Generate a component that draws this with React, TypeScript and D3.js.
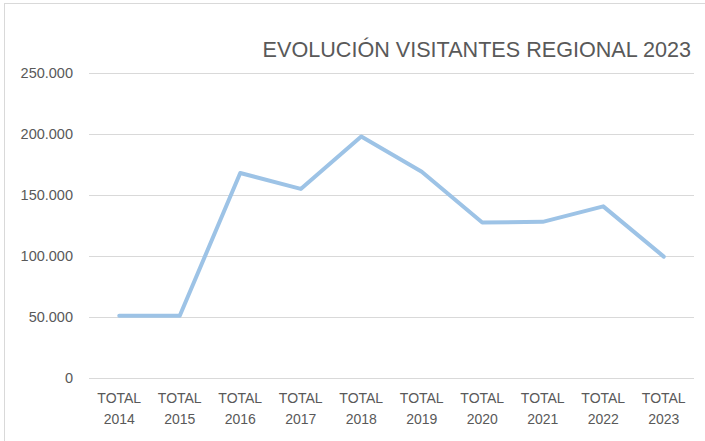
import * as d3 from 'd3';

const categories = ['2014', '2015', '2016', '2017', '2018', '2019', '2020', '2021', '2022', '2023'];
const visitors = [51000, 51000, 168000, 155000, 198000, 169000, 127500, 128000, 140700, 99500];
const yTicks = [0, 50000, 100000, 150000, 200000, 250000];

const W = 705;
const H = 441;
const margin = { top: 73, right: 10, bottom: 63, left: 89 };
const font = "'Liberation Sans', Arial, sans-serif";

const fmt = (v: number) => (v === 0 ? '0' : d3.format(',')(v).replace(/,/g, '.'));

export default function App() {
  const x = d3.scaleBand().domain(categories).range([margin.left, W - margin.right - 1]);
  const y = d3.scaleLinear().domain([0, 250000]).range([H - margin.bottom, margin.top]);

  const line = d3
    .line<number>()
    .x((_, i) => (x(categories[i]) || 0) + x.bandwidth() / 2)
    .y(d => y(d));

  return (
    <svg
      width={W}
      height={H}
      style={{ position: 'fixed', left: 0, top: 0, background: '#fff' }}
      fontFamily={font}
    >
      <rect x={4.5} y={3.5} width={W + 10} height={H + 10} fill="#fff" stroke="#d9d9d9" />

      {/* gridlines */}
      {yTicks.map(t => (
        <line
          key={t}
          x1={margin.left}
          x2={W - margin.right - 1}
          y1={Math.round(y(t)) + 0.5}
          y2={Math.round(y(t)) + 0.5}
          stroke="#d9d9d9"
          strokeWidth={1}
        />
      ))}

      {/* y labels */}
      {yTicks.map(t => (
        <text
          key={'l' + t}
          x={73}
          y={y(t)}
          dy="0.35em"
          textAnchor="end"
          fontSize={14.5}
          fill="#595959"
        >
          {fmt(t)}
        </text>
      ))}

      {/* x labels */}
      {categories.map(c => {
        const cx = (x(c) || 0) + x.bandwidth() / 2;
        return (
          <text key={c} x={cx} textAnchor="middle" fontSize={14} fill="#595959">
            <tspan x={cx} y={403}>TOTAL</tspan>
            <tspan x={cx} y={424}>{c}</tspan>
          </text>
        );
      })}

      <path
        d={line(visitors) || ''}
        fill="none"
        stroke="#9dc3e6"
        strokeWidth={4}
        strokeLinejoin="round"
        strokeLinecap="round"
      />

      <text x={691} y={57} textAnchor="end" fontSize={21.6} fill="#595959">
        EVOLUCIÓN VISITANTES REGIONAL 2023
      </text>
    </svg>
  );
}
